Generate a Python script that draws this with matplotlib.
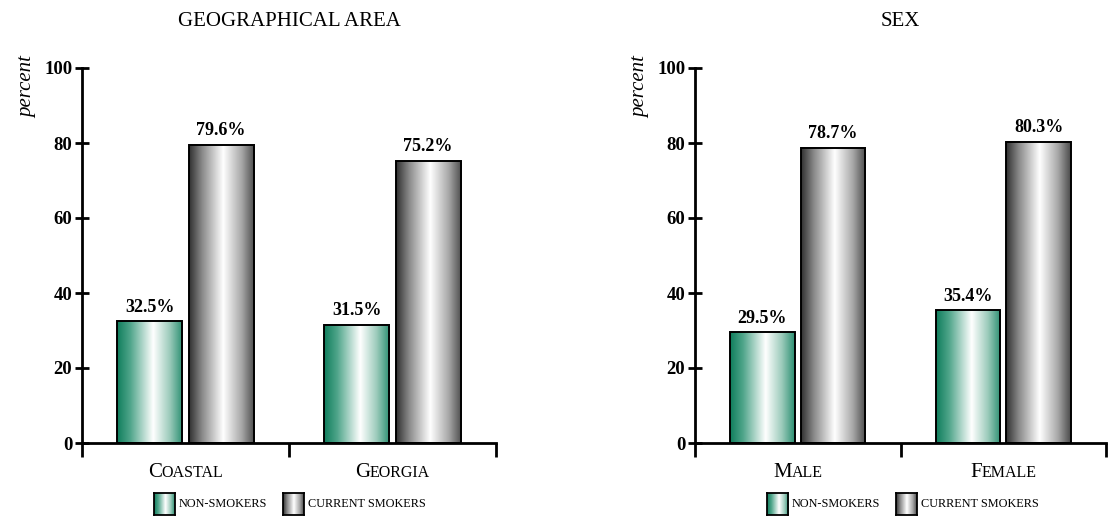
import numpy as np
import matplotlib
matplotlib.use("Agg")
import matplotlib.pyplot as plt
from matplotlib.colors import LinearSegmentedColormap
from matplotlib.transforms import blended_transform_factory, ScaledTranslation

plt.rcParams['font.family'] = ['Liberation Serif', 'DejaVu Serif']

# data
geo_title = "GEOGRAPHICAL AREA"
geo_cats = ["Coastal", "Georgia"]
geo_non = [32.5, 31.5]
geo_cur = [79.6, 75.2]

sex_title = "SEX"
sex_cats = ["Male", "Female"]
sex_non = [29.5, 35.4]
sex_cur = [78.7, 80.3]

series_labels = ["NON-SMOKERS", "CURRENT SMOKERS"]

green_cmap = LinearSegmentedColormap.from_list(
    "g", [(0, "#0f7d5c"), (0.2, "#4fa58a"), (0.55, "#ffffff"), (0.8, "#9ccbbb"), (1, "#2b8f71")])
gray_cmap = LinearSegmentedColormap.from_list(
    "k", [(0, "#303030"), (0.2, "#8a8a8a"), (0.52, "#ffffff"), (0.8, "#a8a8a8"), (1, "#4a4a4a")])
grad = np.linspace(0, 1, 256).reshape(1, -1)

fig = plt.figure(figsize=(11.1, 5.16), dpi=100)
ax1 = fig.add_axes([82 / 1110, 1 - 443 / 516, 414 / 1110, 375 / 516])
ax2 = fig.add_axes([695 / 1110, 1 - 443 / 516, 411 / 1110, 375 / 516])


def smallcaps(ax, x, y, word, big=15, small=11.5):
    renderer = fig.canvas.get_renderer()
    base = blended_transform_factory(ax.transData, ax.transAxes)
    t1 = ax.text(x, y, word[0].upper(), fontsize=big, transform=base, ha='left', va='baseline')
    t2 = ax.text(x, y, word[1:].upper(), fontsize=small, transform=base, ha='left', va='baseline')
    w1 = t1.get_window_extent(renderer).width
    w2 = t2.get_window_extent(renderer).width
    tot = w1 + w2
    t1.set_transform(base + ScaledTranslation(-tot / 2 / fig.dpi, 0, fig.dpi_scale_trans))
    t2.set_transform(base + ScaledTranslation((-tot / 2 + w1) / fig.dpi, 0, fig.dpi_scale_trans))


def panel(ax, title, cats, non, cur):
    x = np.arange(len(cats))
    w = 0.315
    b1 = ax.bar(x - 0.172, non, w, color='none', edgecolor='black', linewidth=1.4, zorder=3)
    b2 = ax.bar(x + 0.172, cur, w, color='none', edgecolor='black', linewidth=1.4, zorder=3)
    for bars, cmap in ((b1, green_cmap), (b2, gray_cmap)):
        for p in bars:
            x0, y0 = p.get_x(), p.get_y()
            ax.imshow(grad, cmap=cmap, aspect='auto', zorder=2,
                      extent=(x0, x0 + p.get_width(), y0, y0 + p.get_height()))
        for p in bars:
            ax.annotate(f"{p.get_height():.1f}%", (p.get_x() + p.get_width() / 2, p.get_height()),
                        xytext=(0, 4), textcoords='offset points', ha='center', va='bottom',
                        fontsize=13, fontweight='bold')
    ax.set_xlim(-0.5, len(cats) - 0.5)
    ax.set_ylim(0, 100)
    ax.set_yticks(range(0, 101, 20))
    ax.set_xticks(np.arange(len(cats) + 1) - 0.5)
    ax.set_xticklabels([])
    ax.tick_params(axis='y', direction='inout', length=10, width=2, labelsize=13.5, pad=2)
    ax.tick_params(axis='x', direction='out', length=10, width=2)
    for lab in ax.get_yticklabels():
        lab.set_fontweight('bold')
    for s in ('top', 'right'):
        ax.spines[s].set_visible(False)
    for s in ('left', 'bottom'):
        ax.spines[s].set_linewidth(2)
    ax.set_title(title, fontsize=15, pad=30)
    ax.text(-0.132, 0.95, "percent", transform=ax.transAxes, rotation=90,
            ha='center', va='center', fontsize=15, style='italic')
    for i, c in enumerate(cats):
        smallcaps(ax, i, -0.09, c)


panel(ax1, geo_title, geo_cats, geo_non, geo_cur)
panel(ax2, sex_title, sex_cats, sex_non, sex_cur)


def legend(xpos):
    # xpos: pixel positions of the two swatches
    for px, cmap, lab in zip(xpos, (green_cmap, gray_cmap), series_labels):
        lax = fig.add_axes([px / 1110, 1 - 515 / 516, 21 / 1110, 22 / 516])
        lax.imshow(grad, cmap=cmap, aspect='auto')
        lax.set_xticks([])
        lax.set_yticks([])
        for s in lax.spines.values():
            s.set_linewidth(1.3)
        fig.text((px + 25) / 1110, 1 - 504 / 516, lab, fontsize=8.8, va='center', ha='left')


legend([154, 283])
legend([767, 896])

fig.savefig("out.png", dpi=100)
